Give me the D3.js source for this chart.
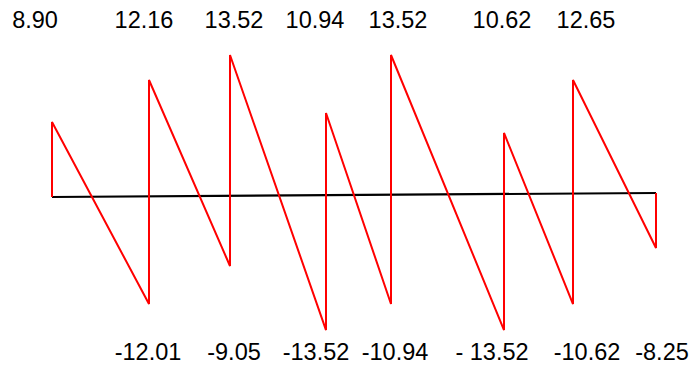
<!DOCTYPE html>
<html><head><meta charset="utf-8">
<script src="https://cdn.jsdelivr.net/npm/d3@7"></script>
<style>html,body{margin:0;padding:0;background:#fff;}svg{display:block;}</style>
</head><body>
<script>
// ---- data ----
const spanLengths = [0.97, 0.81, 0.96, 0.65, 1.13, 0.69, 0.83];          // beam spans
const drawnTops    = [7.14, 11.14, 13.52, 8.0, 13.52, 6.1, 11.14];        // drawn positive peaks
const drawnBottoms = [-10.19, -6.57, -12.67, -10.19, -12.67, -10.19, -4.86]; // drawn negative troughs
const baselineEnds = [0, 0.38];                                           // baseline level at both ends
const topLabels    = ["8.90", "12.16", "13.52", "10.94", "13.52", "10.62", "12.65"];
const bottomLabels = ["-12.01", "-9.05", "-13.52", "-10.94", "- 13.52", "-10.62", "-8.25"];

// ---- layout ----
const W = 691, H = 367;
const topOffsets = [-17, -5, 4, -11, 7, -2, 13];
const bottomOffsets = [-1, 4, -10, 4, -12, 14, 6];

const supports = [0];
spanLengths.forEach(s => supports.push(supports[supports.length - 1] + s));

const x = d3.scaleLinear().domain([0, d3.sum(spanLengths)]).range([52, 656]);
const y = d3.scaleLinear().domain([0, 13.52]).range([197, 55]);

const svg = d3.select("body").append("svg").attr("width", W).attr("height", H);

// baseline
svg.append("line")
  .attr("x1", x(0)).attr("y1", y(baselineEnds[0]))
  .attr("x2", x(supports[supports.length - 1])).attr("y2", y(baselineEnds[1]))
  .attr("stroke", "#000").attr("stroke-width", 2.2);

// shear diagram
const pts = [[supports[0], baselineEnds[0]]];
drawnTops.forEach((t, i) => {
  pts.push([supports[i], t]);
  pts.push([supports[i + 1], drawnBottoms[i]]);
});
pts.push([supports[supports.length - 1], baselineEnds[1]]);

svg.append("path")
  .attr("d", d3.line().x(d => x(d[0])).y(d => y(d[1]))(pts))
  .attr("fill", "none").attr("stroke", "#ff0000").attr("stroke-width", 2)
  .attr("stroke-linejoin", "miter");

const font = "'Liberation Sans', Arial, sans-serif";
svg.append("g").selectAll("text").data(topLabels).join("text")
  .attr("x", (d, i) => x(supports[i]) + topOffsets[i])
  .attr("y", 28)
  .attr("text-anchor", "middle")
  .attr("font-family", font).attr("font-size", 23.5).attr("fill", "#000")
  .text(d => d);

svg.append("g").selectAll("text").data(bottomLabels).join("text")
  .attr("x", (d, i) => x(supports[i + 1]) + bottomOffsets[i])
  .attr("y", 360)
  .attr("text-anchor", "middle")
  .attr("font-family", font).attr("font-size", 23.5).attr("fill", "#000")
  .text(d => d);
</script>
</body></html>
